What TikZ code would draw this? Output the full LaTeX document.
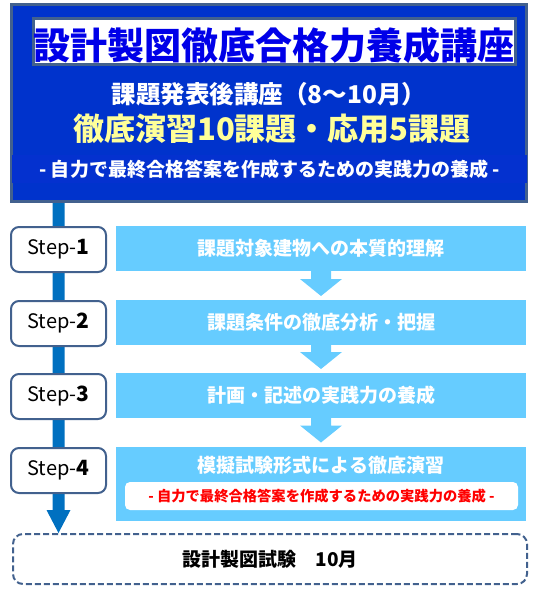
\documentclass[tikz,border=0pt]{standalone}
\usepackage{fontspec}
\setmainfont{Noto Sans CJK JP}
\newfontfamily\schwer{Noto Sans CJK JP Black}
\usetikzlibrary{backgrounds, calc}

\definecolor{kopfblau}{HTML}{0033CC}
\definecolor{bandblau}{HTML}{0431CF}
\definecolor{rahmengrau}{HTML}{42618E}
\definecolor{titelblau}{HTML}{0000E8}
\definecolor{gelb}{HTML}{FFFF99}
\definecolor{linienblau}{HTML}{0070C0}
\definecolor{hellblau}{HTML}{66CCFF}
\definecolor{hinweisrot}{HTML}{FF0000}

\newcommand{\groesse}[1]{\fontsize{#1}{#1}\selectfont}

\begin{document}
\begin{tikzpicture}[x = 1pt, y = -1pt, line width = 2pt, inner sep = 0pt, outer sep = 0pt,
	stufe/.style = {draw = rahmengrau, fill = white, rounded corners = 8pt, minimum width = 95pt, minimum height = 45pt, font = \groesse{20pt}},
	balken/.style = {fill = hellblau, minimum width = 410pt, minimum height = 45pt, text = white, font = \bfseries\groesse{19pt}}]
	\useasboundingbox (0, 0) rectangle (534, 594);

	% Kopfbereich:
	\node [draw = rahmengrau, line width = 3pt, fill = kopfblau, minimum width = 515pt, minimum height = 197pt] (kopf) at (269, 103) {};
	\node [fill = bandblau, minimum width = 515pt, minimum height = 28pt] (band) at (269.5, 169) {};
	\node [draw = rahmengrau, line width = 3pt, fill = white, minimum width = 482pt, minimum height = 46pt] (titel) at (274.5, 41.5) {};
	\node [text = titelblau, font = \schwer\groesse{37pt}] (titeltext) at (273.5, 45) {設計製図徹底合格力養成講座};
	\node [text = white, font = \bfseries\groesse{24.5pt}] (zeitraum) at (269, 94) {課題発表後講座（8～10月）};
	\node [text = gelb, font = \schwer\groesse{31pt}] (uebungen) at (272, 129) {徹底演習10課題・応用5課題};
	\node [text = white, font = \bfseries\groesse{19pt}] (ziel) at (band) {- 自力で最終合格答案を作成するための実践力の養成 -};

	% Schritte:
	\foreach \i/\y in {1/249.5, 2/323.5, 3/396.5, 4/470.5} {
		\node [stufe] (s\i) at (58.5, \y) {Step-{\schwer\groesse{21pt}\i}};
	}

	% Balken:
	\foreach \i/\y/\inhalt in {1/248.5/課題対象建物への本質的理解, 2/322.5/課題条件の徹底分析・把握, 3/395.5/計画・記述の実践力の養成} {
		\node [balken] (b\i) at (321, \y) {\inhalt};
	}
	\node [balken, minimum height = 74.5pt] (b4) at (321, 483.75) {};
	\node [text = white, font = \bfseries\groesse{19pt}] (b4text) at (321, 465) {模擬試験形式による徹底演習};
	\node [fill = white, rounded corners = 5pt, minimum width = 393pt, minimum height = 28pt, text = hinweisrot, font = \bfseries\groesse{14.3pt}] (hinweis) at (321.5, 496) {- 自力で最終合格答案を作成するための実践力の養成 -};

	% Pfeile zwischen den Balken:
	\foreach \a/\b in {b1/b2, b2/b3, b3/b4} {
		\fill [hellblau] ($(\a.south) + (-10, 0)$) -- ($(\b.north) + (-10, -21)$) -- ($(\b.north) + (-21, -21)$) -- ($(\b.north) + (0, -4)$) -- ($(\b.north) + (21, -21)$) -- ($(\b.north) + (10, -21)$) -- ($(\a.south) + (10, 0)$) -- cycle;
	}

	% Abschluss:
	\node [draw = rahmengrau, dash pattern = on 6pt off 3pt, rounded corners = 10pt, minimum width = 514pt, minimum height = 50pt, font = \bfseries\groesse{19pt}] (pruefung) at (270, 559) {設計製図試験　10月};

	% Zeitachse
	\begin{scope}[on background layer]
		\fill [linienblau] ($(kopf.south -| s1.center) + (-6, 0)$) -- ($(pruefung.north -| s1.center) + (-6, -24)$) -- ($(pruefung.north -| s1.center) + (-12, -24)$) -- ($(pruefung.north -| s1.center) + (0, -1)$) -- ($(pruefung.north -| s1.center) + (12, -24)$) -- ($(pruefung.north -| s1.center) + (6, -24)$) -- ($(kopf.south -| s1.center) + (6, 0)$) -- cycle;
	\end{scope}
\end{tikzpicture}
\end{document}
